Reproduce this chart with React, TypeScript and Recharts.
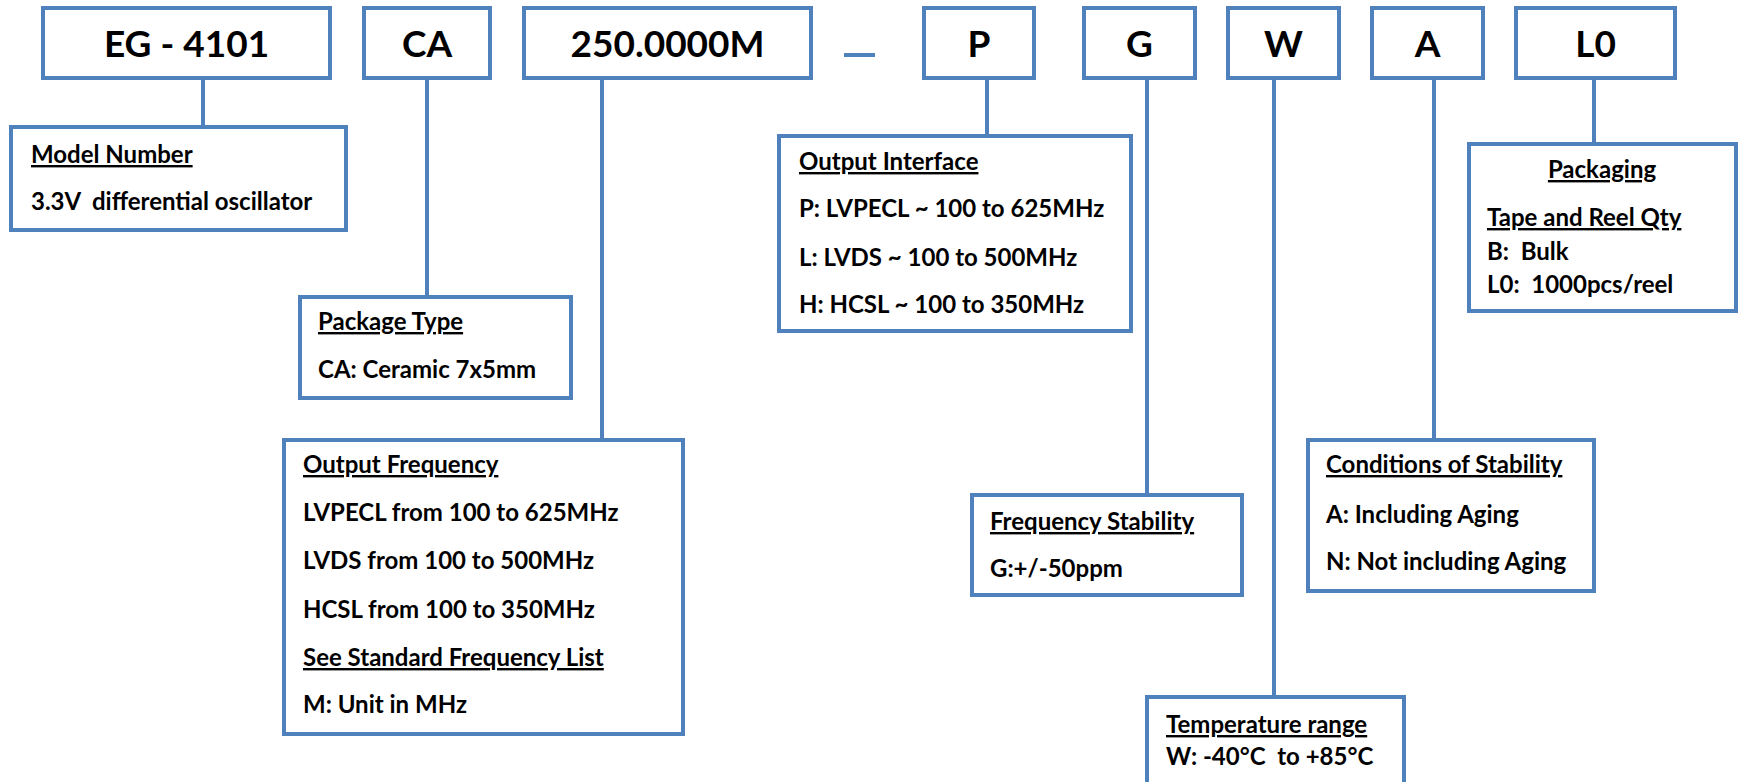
import {
  ScatterChart, Scatter, XAxis, YAxis, ReferenceArea, ReferenceLine,
} from 'recharts'

type Box = { x1: number; x2: number; y1: number; y2: number }
type Code = Box & { label: string }
type TextItem = { x: number; y: number; text: string }

// part number segments along the top row
const codes: Code[] = [
  { label: 'EG - 4101', x1: 43, x2: 330, y1: 8, y2: 78 },
  { label: 'CA', x1: 364, x2: 490, y1: 8, y2: 78 },
  { label: '250.0000M', x1: 524, x2: 811, y1: 8, y2: 78 },
  { label: 'P', x1: 924, x2: 1034, y1: 8, y2: 78 },
  { label: 'G', x1: 1084, x2: 1195, y1: 8, y2: 78 },
  { label: 'W', x1: 1228, x2: 1339, y1: 8, y2: 78 },
  { label: 'A', x1: 1372, x2: 1483, y1: 8, y2: 78 },
  { label: 'L0', x1: 1516, x2: 1675, y1: 8, y2: 78 },
]

// description boxes below (temperature box runs off the bottom edge)
const details: Box[] = [
  { x1: 11, x2: 346, y1: 127, y2: 230 },
  { x1: 300, x2: 571, y1: 297, y2: 398 },
  { x1: 284, x2: 683, y1: 440, y2: 734 },
  { x1: 779, x2: 1131, y1: 136, y2: 331 },
  { x1: 972, x2: 1242, y1: 495, y2: 595 },
  { x1: 1308, x2: 1594, y1: 440, y2: 591 },
  { x1: 1147, x2: 1404, y1: 697, y2: 800 },
  { x1: 1469, x2: 1736, y1: 144, y2: 311 },
]

// vertical leaders from each segment to its box
const leaders = [
  { x: 203, from: 80, to: 127 },
  { x: 427, from: 80, to: 297 },
  { x: 602, from: 80, to: 440 },
  { x: 987, from: 80, to: 136 },
  { x: 1147, from: 80, to: 495 },
  { x: 1274, from: 80, to: 697 },
  { x: 1434, from: 80, to: 440 },
  { x: 1594, from: 80, to: 144 },
]

const headings: TextItem[] = [
  { x: 31, y: 163, text: 'Model Number' },
  { x: 318, y: 330, text: 'Package Type' },
  { x: 303, y: 473, text: 'Output Frequency' },
  { x: 303, y: 666, text: 'See Standard Frequency List' },
  { x: 799, y: 170, text: 'Output Interface' },
  { x: 990, y: 530, text: 'Frequency Stability' },
  { x: 1326, y: 473, text: 'Conditions of Stability' },
  { x: 1166, y: 733, text: 'Temperature range' },
  { x: 1487, y: 226, text: 'Tape and Reel Qty' },
]

const centeredHeadings: TextItem[] = [
  { x: 1602, y: 178, text: 'Packaging' },
]

const lines: TextItem[] = [
  { x: 31, y: 210, text: '3.3V  differential oscillator' },
  { x: 318, y: 378, text: 'CA: Ceramic 7x5mm' },
  { x: 303, y: 521, text: 'LVPECL from 100 to 625MHz' },
  { x: 303, y: 569, text: 'LVDS from 100 to 500MHz' },
  { x: 303, y: 618, text: 'HCSL from 100 to 350MHz' },
  { x: 303, y: 713, text: 'M: Unit in MHz' },
  { x: 799, y: 217, text: 'P: LVPECL ~ 100 to 625MHz' },
  { x: 799, y: 266, text: 'L: LVDS ~ 100 to 500MHz' },
  { x: 799, y: 313, text: 'H: HCSL ~ 100 to 350MHz' },
  { x: 990, y: 577, text: 'G:+/-50ppm' },
  { x: 1326, y: 523, text: 'A: Including Aging' },
  { x: 1326, y: 570, text: 'N: Not including Aging' },
  { x: 1166, y: 765, text: 'W: -40°C  to +85°C' },
  { x: 1487, y: 260, text: 'B:  Bulk' },
  { x: 1487, y: 293, text: 'L0:  1000pcs/reel' },
]

const dash = { x1: 844, x2: 875, y: 55 }

const BLUE = '#4F81BD'
const FONT = 'Lato, "Open Sans", sans-serif'

const makeText = (size: number, anchor: 'start' | 'middle', underline = false) =>
  (props: any) => (
    <text
      x={props.cx}
      y={props.cy}
      fontFamily={FONT}
      fontWeight={700}
      fontSize={size}
      fill="#000"
      textAnchor={anchor}
      textDecoration={underline ? 'underline' : undefined}
      style={{ whiteSpace: 'pre' }}
    >
      {props.payload.text}
    </text>
  )

export default function App() {
  const codeLabels = codes.map(c => ({ x: (c.x1 + c.x2) / 2, y: 57, text: c.label }))

  return (
    <div style={{ width: 1739, height: 782, background: '#fff' }}>
      <style>{'body{margin:0;overflow:hidden}'}</style>
      <ScatterChart width={1739} height={782} margin={{ top: 0, right: 0, bottom: 0, left: 0 }}>
        <XAxis type="number" dataKey="x" domain={[0, 1739]} hide />
        <YAxis type="number" dataKey="y" domain={[0, 782]} reversed hide />

        {leaders.map((l, i) => (
          <ReferenceLine
            key={`l${i}`}
            segment={[{ x: l.x, y: l.from }, { x: l.x, y: l.to }]}
            stroke={BLUE}
            strokeWidth={4}
            ifOverflow="visible"
          />
        ))}
        <ReferenceLine
          segment={[{ x: dash.x1, y: dash.y }, { x: dash.x2, y: dash.y }]}
          stroke={BLUE}
          strokeWidth={4}
          ifOverflow="visible"
        />

        {[...codes, ...details].map((b, i) => (
          <ReferenceArea
            key={`b${i}`}
            x1={b.x1} x2={b.x2} y1={b.y1} y2={b.y2}
            fill="#fff"
            fillOpacity={1}
            stroke={BLUE}
            strokeWidth={4}
            strokeOpacity={1}
            ifOverflow="visible"
          />
        ))}

        <Scatter data={codeLabels} shape={makeText(37, 'middle')} isAnimationActive={false} />
        <Scatter data={headings} shape={makeText(24, 'start', true)} isAnimationActive={false} />
        <Scatter data={centeredHeadings} shape={makeText(24, 'middle', true)} isAnimationActive={false} />
        <Scatter data={lines} shape={makeText(24, 'start')} isAnimationActive={false} />
      </ScatterChart>
    </div>
  )
}
